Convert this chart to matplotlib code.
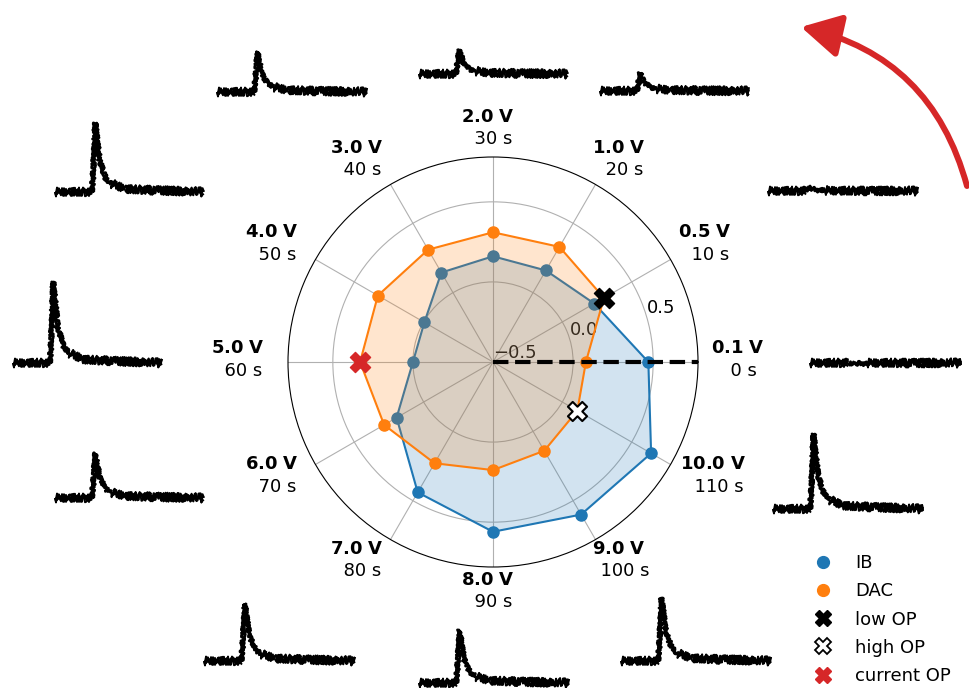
"""Radar view of IB / DAC response over the voltage sweep, with example traces around it."""
import matplotlib
import numpy as np

matplotlib.use("Agg")
import matplotlib.pyplot as plt
from matplotlib.lines import Line2D
from matplotlib.patches import FancyArrowPatch


VOLTAGES = ["0.1", "0.5", "1.0", "2.0", "3.0", "4.0", "5.0", "6.0", "7.0", "8.0", "9.0", "10.0"]
TIMES = [0, 10, 20, 30, 40, 50, 60, 70, 80, 90, 100, 110]
IB = [0.47, 0.23, 0.16, 0.16, 0.145, -0.005, 0.0, 0.195, 0.44, 0.56, 0.60, 0.64]
DAC = [0.08, 0.30, 0.33, 0.31, 0.31, 0.33, 0.33, 0.285, 0.23, 0.175, 0.14, 0.108]
LOW_OP, HIGH_OP, CURRENT_OP = 1, 11, 6

# spike amplitude of the example trace recorded at each step (a.u.)
TRACE_PEAK = [0, 4, 18, 24, 40, 69, 81, 45, 57, 53, 63, 75]
# shared spike profile: (fraction of sweep, fraction of peak)
PROFILE_T = [0.0, 0.25, 0.27, 0.30, 0.34, 0.38, 0.48, 1.0]
PROFILE_Y = [0.0, 0.0, 1.0, 0.45, 0.20, 0.12, 0.04, 0.0]

# where each trace sits on the canvas, in pixels: left, right, baseline (from top)
TRACE_BOX = [(810, 961, 363), (768, 918, 191), (600, 749, 91), (419, 568, 74),
             (217, 367, 92), (55, 204, 192), (13, 162, 363), (55, 204, 498),
             (204, 355, 661), (419, 569, 683), (621, 771, 661), (773, 923, 509)]
W, H = 969, 688
# recording noise is drawn as a jitter texture: (profile slice, line width, sketch params)
NOISE_PIECES = ((slice(0, 2), 1.4, ((4.5, 0.4, 2), (4.0, 0.7, 3), (4.5, 1.1, 2.5))),
                (slice(1, 6), 2.0, ((1.6, 0.5, 2), (2.2, 0.9, 3))),
                (slice(5, None), 1.4, ((4.5, 0.4, 2), (4.0, 0.7, 3), (4.5, 1.1, 2.5))))


def main() -> None:
    plt.rcParams["font.size"] = 13
    fig = plt.figure(figsize=(W/100, H/100), dpi=100)
    cx, cy, rad = 493, 362, 205
    ax = fig.add_axes([(cx-rad)/W, (H-cy-rad)/H, 2*rad/W, 2*rad/H], projection="polar")

    theta = np.deg2rad(np.arange(len(VOLTAGES))*30)
    closed = np.append(theta, theta[0])
    ib = np.append(IB, IB[0]); dac = np.append(DAC, DAC[0])

    ax.plot(closed, ib, color="tab:blue", lw=1.5, zorder=2)
    ax.scatter(theta, IB, s=64, color="tab:blue", zorder=2)
    ax.fill(closed, ib, color="tab:blue", alpha=0.2, lw=0, zorder=2.1)
    ax.plot(closed, dac, color="tab:orange", lw=1.5, zorder=2.2)
    ax.scatter(theta, DAC, s=64, color="tab:orange", zorder=2.2)
    ax.fill(closed, dac, color="tab:orange", alpha=0.2, lw=0, zorder=2.3)

    rmin, rmax = -0.5, 0.78
    ax.plot([0, 0], [rmin, rmax], "k--", lw=3, zorder=4, clip_on=False)
    ax.scatter(theta[LOW_OP], DAC[LOW_OP], marker="X", s=210, color="black", zorder=5)
    ax.scatter(theta[HIGH_OP], DAC[HIGH_OP], marker="X", s=190, facecolor="white",
               edgecolor="black", linewidth=1.5, zorder=5)
    ax.scatter(theta[CURRENT_OP], DAC[CURRENT_OP], marker="X", s=210, color="tab:red", zorder=5)

    ax.set_rlim(rmin, rmax)
    ax.set_rticks([-0.5, 0.0, 0.5])
    ax.set_rlabel_position(16.5)
    ax.set_xticks(theta, [])
    # two-line angle labels on an elliptical ring outside the plot
    for ang, v, t in zip(theta, VOLTAGES, TIMES):
        c = abs(np.cos(ang))
        wide = 250 + 10*(len(v) - 3) + 12*max(0.0, 3*c - 4*c**3)
        px = cx - 5 + wide*np.cos(ang)
        py = H - cy + 2.5 + 231.5*np.sin(ang)
        fig.text(px/W, py/H, f"$\\mathbf{{{v}\\ V}}$\n  {t} s", ha="center", va="center",
                 linespacing=1.35)

    for peak, (x0, x1, yb) in zip(TRACE_PEAK, TRACE_BOX):
        inset = fig.add_axes([x0/W, (H-yb-12)/H, (x1-x0)/W, 100/H])
        for part, lw, styles in NOISE_PIECES:
            for style in styles:
                line, = inset.plot(PROFILE_T[part], peak*np.asarray(PROFILE_Y[part]), color="black",
                                   lw=lw, clip_on=False, solid_capstyle="butt")
                line.set_sketch_params(*style)
        inset.set_xlim(0, 1); inset.set_ylim(-12, 88)
        inset.axis("off")

    handles = [Line2D([], [], ls="", marker="o", markersize=8.5, color="tab:blue", label="IB"),
               Line2D([], [], ls="", marker="o", markersize=8.5, color="tab:orange", label="DAC"),
               Line2D([], [], ls="", marker="X", markersize=12, color="black", label="low OP"),
               Line2D([], [], ls="", marker="X", markersize=12, markerfacecolor="white",
                      markeredgecolor="black", markeredgewidth=1.3, label="high OP"),
               Line2D([], [], ls="", marker="X", markersize=12, color="tab:red", label="current OP")]
    fig.legend(handles=handles, loc="lower right", bbox_to_anchor=(0.998, -0.019), frameon=False,
               fontsize=13, labelspacing=0.56)

    arrow = FancyArrowPatch((967/W, 1-186/H), (801/W, 1-27/H), transform=fig.transFigure,
                            connectionstyle="arc3,rad=0.3", arrowstyle="-|>,head_length=0.4,head_width=0.22",
                            mutation_scale=60, color="tab:red", lw=4.3, shrinkA=0, shrinkB=0)
    fig.patches.append(arrow)

    fig.savefig("out.png", dpi=100)
    plt.close(fig)


if __name__ == "__main__":
    main()
